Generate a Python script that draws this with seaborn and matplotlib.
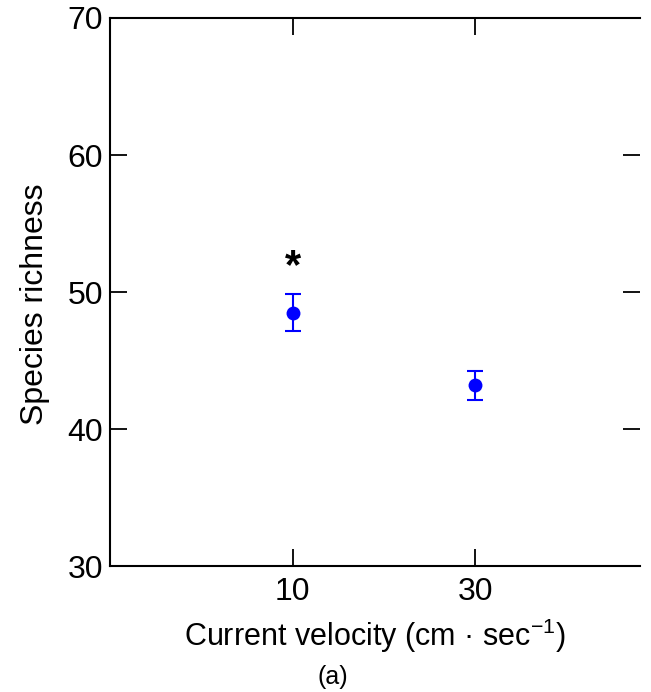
import pandas as pd
import matplotlib
matplotlib.use("Agg")
import matplotlib.pyplot as plt
import seaborn as sns

# data
velocity = ["10", "30"]
richness = [48.5, 43.2]
err_low = [1.35, 1.05]
err_high = [1.35, 1.05]
star_y = 51.8

sns.set_style("ticks")
plt.rcParams['font.family'] = ['Liberation Sans', 'DejaVu Sans']
plt.rcParams['mathtext.default'] = 'regular'
plt.rcParams['text.color'] = 'black'
plt.rcParams['axes.labelcolor'] = 'black'

df = pd.DataFrame({"Velocity": velocity, "Richness": richness})
df["pos"] = range(len(df))

fig = plt.figure(figsize=(6.51, 6.92), dpi=100)
ax = fig.add_axes([0.169, 0.182, 0.814, 0.792])

ax.errorbar(df["pos"], df["Richness"], yerr=[err_low, err_high], fmt="none",
            ecolor="#0000ff", elinewidth=1.5, capsize=6, capthick=1.5, zorder=2)
sns.scatterplot(data=df, x="pos", y="Richness", color="#0000ff", s=100,
                edgecolor="#0000ff", linewidth=0, ax=ax, zorder=3)

ax.text(0, star_y, "*", ha="center", va="center", fontsize=30, fontweight="bold")

ax.set_xlim(-1.0, 1.9)
ax.set_ylim(30, 70)
ax.set_xticks(df["pos"])
ax.set_xticklabels(velocity)
ax.set_yticks([30, 40, 50, 60, 70])

for s in ["left", "bottom", "top"]:
    ax.spines[s].set_visible(True)
    ax.spines[s].set_linewidth(1.5)
    ax.spines[s].set_color("black")
ax.spines["right"].set_visible(False)

ax.tick_params(direction="in", length=12, width=1.3, labelsize=23,
               top=True, right=True, colors="black")
ax.tick_params(axis="x", pad=8)
ax.tick_params(axis="y", pad=5)

ax.set_xlabel("Current velocity (cm · sec$^{-1}$)", fontsize=22, labelpad=7)
ax.set_ylabel("Species richness", fontsize=23)
ax.yaxis.set_label_coords(-0.114, 0.478)
fig.text(0.511, 0.022, "(a)", ha="center", va="center", fontsize=18)

fig.savefig("out.png", dpi=100)
